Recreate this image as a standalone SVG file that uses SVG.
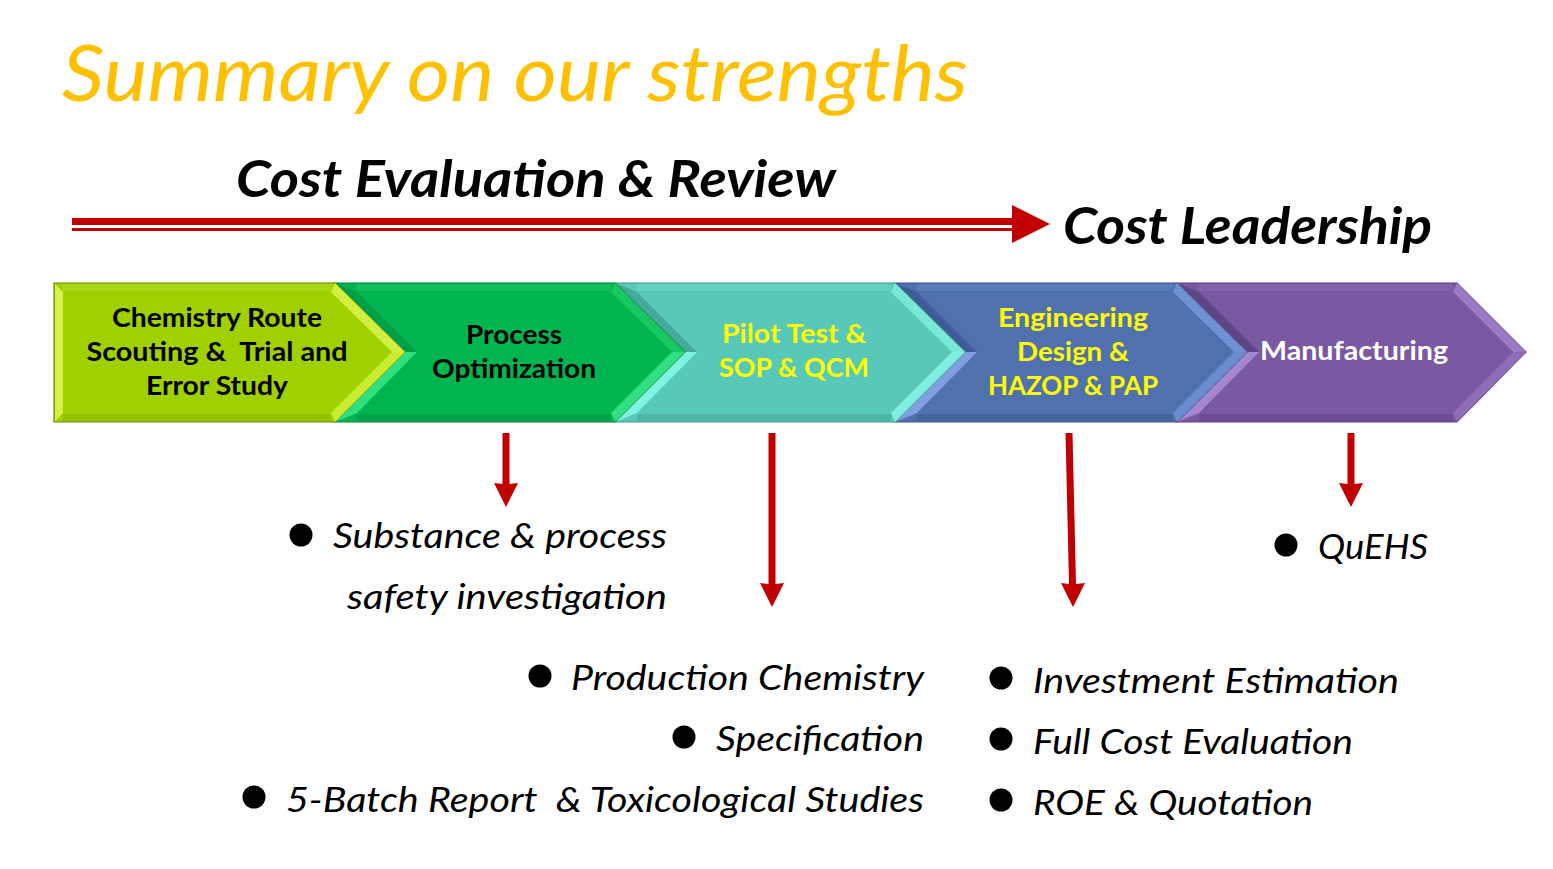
<svg xmlns="http://www.w3.org/2000/svg" width="1553" height="869" viewBox="0 0 1553 869">
<defs>
<style>
.title{font-family:Lato,"Open Sans",sans-serif;font-style:italic;font-size:78px;fill:#FFC000}
.head{font-family:Lato,"Open Sans",sans-serif;font-style:italic;font-weight:bold;font-size:51px;fill:#000}
.lbl{font-family:Lato,"Open Sans",sans-serif;font-weight:bold;font-size:26px;text-anchor:middle}
.bul{font-family:Lato,"Open Sans",sans-serif;font-style:italic;font-size:34px;fill:#000}
.pre{white-space:pre}
.red{fill:#C00000}
.edge{stroke-width:1.2}
</style>
</defs>
<rect width="1553" height="869" fill="#fff"/>
<text class="title" x="62" y="101" textLength="906" lengthAdjust="spacingAndGlyphs">Summary on our strengths</text>
<text class="head" x="236" y="197" textLength="600" lengthAdjust="spacingAndGlyphs">Cost Evaluation &amp; Review</text>
<text class="head" x="1063" y="244" textLength="369" lengthAdjust="spacingAndGlyphs">Cost Leadership</text>

<!-- chevrons drawn right to left so each tip overlaps the next shape -->
<g id="n5">
<polygon points="1177,283 1457,283 1526,352 1457,422 1177,422 1246,352" fill="#7A58A2" stroke="#5A3E7E" class="edge"/>
<polygon points="1457,283 1526,352 1513,352 1453,292" fill="#9B7BC4"/>
<polygon points="1526,352 1457,422 1453,413 1513,352" fill="#8E6CB8"/>
<polygon points="1177,283 1246,352 1259,352 1199,292" fill="#5F4486"/>
<polygon points="1246,352 1177,422 1199,413 1259,352" fill="#A587D0"/>
<rect x="1199" y="284" width="254" height="7" fill="#8363AC"/>
<rect x="1199" y="414" width="254" height="7" fill="#6D4D94"/>
<text class="lbl" x="1354" y="360" fill="#FFFFFF" textLength="188" lengthAdjust="spacingAndGlyphs">Manufacturing</text>
</g>
<g id="n4">
<polygon points="895,283 1177,283 1247,352 1177,422 895,422 964,352" fill="#5071AE" stroke="#3A5588" class="edge"/>
<polygon points="1177,283 1247,352 1234,352 1173,292" fill="#7092D2"/>
<polygon points="1247,352 1177,422 1173,413 1234,352" fill="#6A8DD0"/>
<polygon points="895,283 964,352 977,352 917,292" fill="#3F5C94"/>
<polygon points="964,352 895,422 917,413 977,352" fill="#809FE0"/>
<rect x="917" y="284" width="256" height="7" fill="#5A7CBA"/>
<rect x="917" y="414" width="256" height="7" fill="#46649E"/>
<text class="lbl" fill="#FFFF00"><tspan x="1073" y="327" textLength="150" lengthAdjust="spacingAndGlyphs">Engineering</tspan><tspan x="1073" y="361" textLength="112" lengthAdjust="spacingAndGlyphs">Design &amp;</tspan><tspan x="1073" y="395" textLength="170" lengthAdjust="spacingAndGlyphs">HAZOP &amp; PAP</tspan></text>
</g>
<g id="n3">
<polygon points="615,283 895,283 965,352 895,422 615,422 684,352" fill="#58C8B8" stroke="#3D9A8C" class="edge"/>
<polygon points="895,283 965,352 952,352 891,292" fill="#78E8D8"/>
<polygon points="965,352 895,422 891,413 952,352" fill="#80F0E0"/>
<polygon points="615,283 684,352 697,352 637,292" fill="#45AA9C"/>
<polygon points="684,352 615,422 637,413 697,352" fill="#80F2E2"/>
<rect x="637" y="284" width="254" height="7" fill="#62D2C2"/>
<rect x="637" y="414" width="254" height="7" fill="#4DB6A8"/>
<text class="lbl" fill="#FFFF00"><tspan x="794" y="343" textLength="144" lengthAdjust="spacingAndGlyphs">Pilot Test &amp;</tspan><tspan x="794" y="377" textLength="150" lengthAdjust="spacingAndGlyphs">SOP &amp; QCM</tspan></text>
</g>
<g id="n2">
<polygon points="335,283 615,283 685,352 615,422 335,422 404,352" fill="#00B450" stroke="#08803C" class="edge"/>
<polygon points="615,283 685,352 672,352 611,292" fill="#18C862"/>
<polygon points="685,352 615,422 611,413 672,352" fill="#30E080"/>
<polygon points="335,283 404,352 417,352 357,292" fill="#00A048"/>
<polygon points="404,352 335,422 357,413 417,352" fill="#30E080"/>
<rect x="357" y="284" width="254" height="7" fill="#10BE5A"/>
<rect x="357" y="414" width="254" height="7" fill="#00A24A"/>
<text class="lbl" fill="#000"><tspan x="514" y="344" textLength="96" lengthAdjust="spacingAndGlyphs">Process</tspan><tspan x="514" y="378" textLength="164" lengthAdjust="spacingAndGlyphs">Optimization</tspan></text>
</g>
<g id="n1">
<polygon points="54,283 335,283 405,352 335,422 54,422" fill="#A0D000" stroke="#6E8A08" class="edge"/>
<polygon points="335,283 405,352 392,352 331,292" fill="#D0F040"/>
<polygon points="405,352 335,422 331,413 392,352" fill="#C8EC30"/>
<polygon points="55,284 63,292 63,413 55,421" fill="#D6F050"/>
<rect x="63" y="284" width="268" height="7" fill="#A8D810"/>
<rect x="63" y="414" width="268" height="7" fill="#94C000"/>
<text class="lbl pre" fill="#000" xml:space="preserve"><tspan x="217" y="327" textLength="210" lengthAdjust="spacingAndGlyphs">Chemistry Route</tspan><tspan x="217" y="361" textLength="261" lengthAdjust="spacingAndGlyphs">Scouting &amp;  Trial and</tspan><tspan x="217" y="395" textLength="142" lengthAdjust="spacingAndGlyphs">Error Study</tspan></text>
</g>

<g id="connectors" class="red">
<rect x="72" y="218" width="942" height="7"/>
<rect x="72" y="228" width="942" height="3"/>
<polygon points="1012,205 1050,224 1012,243"/>
<polygon points="502.5,433 509.5,433 509.5,484 518,483 506,507 494,483 502.5,484"/>
<polygon points="768.5,433 775.5,433 775.5,584 784,583 772,607 760,583 768.5,584"/>
<polygon points="1065.5,433 1072.5,433 1076,584 1085,583 1073,607 1061,583 1069,584"/>
<polygon points="1347.5,433 1354.5,433 1354.5,484 1363,483 1351,507 1339,483 1347.5,484"/>
</g>

<g id="list-process">
<circle cx="301" cy="535" r="11.5"/>
<text class="bul" x="333" y="548" textLength="334" lengthAdjust="spacingAndGlyphs">Substance &amp; process</text>
<text class="bul" x="347" y="609" textLength="320" lengthAdjust="spacingAndGlyphs">safety investigation</text>
</g>
<g id="list-pilot">
<circle cx="540" cy="676" r="11.5"/>
<text class="bul" x="571" y="690" textLength="353" lengthAdjust="spacingAndGlyphs">Production Chemistry</text>
<circle cx="684" cy="737" r="11.5"/>
<text class="bul" x="716" y="751" textLength="208" lengthAdjust="spacingAndGlyphs">Specification</text>
<circle cx="254" cy="797" r="11.5"/>
<text class="bul pre" x="286" y="812" textLength="638" lengthAdjust="spacingAndGlyphs" xml:space="preserve">5-Batch Report  &amp; Toxicological Studies</text>
</g>
<g id="list-engineering">
<circle cx="1001" cy="678" r="11.5"/>
<text class="bul" x="1033" y="693" textLength="366" lengthAdjust="spacingAndGlyphs">Investment Estimation</text>
<circle cx="1001" cy="739" r="11.5"/>
<text class="bul" x="1033" y="754" textLength="320" lengthAdjust="spacingAndGlyphs">Full Cost Evaluation</text>
<circle cx="1001" cy="800" r="11.5"/>
<text class="bul" x="1033" y="815" textLength="280" lengthAdjust="spacingAndGlyphs">ROE &amp; Quotation</text>
</g>
<g id="list-manufacturing">
<circle cx="1286" cy="545" r="11.5"/>
<text class="bul" x="1318" y="559" textLength="110" lengthAdjust="spacingAndGlyphs">QuEHS</text>
</g>
</svg>
